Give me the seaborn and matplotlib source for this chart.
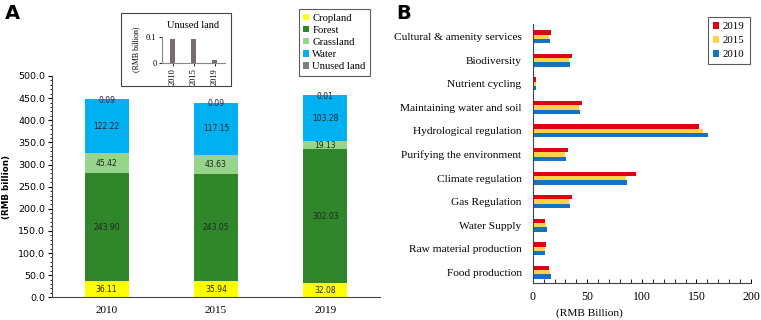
import numpy as np
import pandas as pd
import matplotlib
matplotlib.use("Agg")
import matplotlib.pyplot as plt
from matplotlib.patches import Rectangle, Patch
import seaborn as sns

# ---------------- data ----------------
years = ["2010", "2015", "2019"]
land_types = ["Cropland", "Forest", "Grassland", "Water", "Unused land"]
cropland = [36.11, 35.94, 32.08]
forest = [243.90, 243.05, 302.03]
grassland = [45.42, 43.63, 19.13]
water = [122.22, 117.15, 103.28]
unused = [0.09, 0.09, 0.01]

services = ["Cultural & amenity services", "Biodiversity", "Nutrient cycling",
            "Maintaining water and soil", "Hydrological regulation",
            "Purifying the environment", "Climate regulation", "Gas Regulation",
            "Water Supply", "Raw material production", "Food production"]
val_2019 = [16.5, 36.3, 3.0, 44.9, 152.4, 32.0, 94.9, 36.0, 11.3, 11.9, 15.2]
val_2015 = [15.0, 33.3, 3.0, 42.4, 156.0, 29.9, 85.2, 33.3, 11.9, 11.6, 15.5]
val_2010 = [15.5, 33.9, 3.0, 43.0, 160.9, 30.5, 86.1, 33.9, 12.8, 11.3, 16.5]
b_years = ["2019", "2015", "2010"]

land_colors = {"Cropland": "#FFFF00", "Forest": "#2F862B", "Grassland": "#97D58A",
               "Water": "#00B0F0", "Unused land": "#7F7F7F"}
year_colors = {"2019": "#E00012", "2015": "#FFD24A", "2010": "#1272C6"}

SERIF = ["Liberation Serif", "DejaVu Serif"]
SANS = ["DejaVu Sans"]

W, H = 761, 320
fig = plt.figure(figsize=(W / 100, H / 100), dpi=100)


def rect(l, t, r, b):
    return [l / W, 1 - b / H, (r - l) / W, (b - t) / H]


# ---------------- panel A ----------------
axA = fig.add_axes(rect(52, 76, 380, 297.3))
dfA = pd.DataFrame({"year": years, "Cropland": cropland, "Forest": forest,
                    "Grassland": grassland, "Water": water, "Unused land": unused})
cum = dfA[land_types].cumsum(axis=1)
for lt in reversed(land_types):
    sns.barplot(x=dfA["year"], y=cum[lt], order=years, color=land_colors[lt],
                width=0.4, saturation=1, ax=axA, linewidth=0)
axA.set_xlim(-0.5, 2.5)
axA.set_ylim(0, 500)
axA.set_yticks(np.arange(0, 501, 50))
axA.set_yticklabels([f"{v:.1f}" for v in np.arange(0, 501, 50)], family=SANS, fontsize=6.8)
axA.set_yticks(np.arange(0, 501, 10), minor=True)
axA.tick_params(axis="y", which="major", direction="out", length=3, width=0.8, pad=2)
axA.tick_params(axis="y", which="minor", direction="out", length=1.8, width=0.6)
axA.tick_params(axis="x", length=0, pad=6)
for lab in axA.get_xticklabels():
    lab.set_family(SERIF)
    lab.set_fontsize(8)
axA.set_xlabel("")
axA.set_ylabel("")
for s in ["top", "right"]:
    axA.spines[s].set_visible(False)
for s in ["left", "bottom"]:
    axA.spines[s].set_color("#444444")
    axA.spines[s].set_linewidth(0.8)

prev = np.zeros(3)
for lt in land_types:
    vals = dfA[lt].to_numpy()
    for i in range(3):
        if lt == "Unused land":
            y = prev[i] + vals[i] - 2
        else:
            y = prev[i] + vals[i] / 2
        axA.text(i, y, f"{vals[i]:.2f}", ha="center", va="center", fontsize=5.5,
                 family=SANS, color="#222222")
    prev = prev + vals

fig.text(7 / W, 1 - 187 / H, "(RMB billion)", rotation=90, ha="center", va="center",
         fontsize=6.3, fontweight="bold", family=SANS)
fig.text(5 / W, 1 - 4 / H, "A", ha="left", va="top", fontsize=14, fontweight="bold", family=SANS)

# legend A
handlesA = [Patch(facecolor=land_colors[lt], edgecolor="none") for lt in land_types]
legA = fig.legend(handlesA, land_types, loc="upper left",
                  bbox_to_anchor=(299 / W, 1 - 9.3 / H), prop={"family": SERIF, "size": 7.7},
                  frameon=True, fancybox=False, edgecolor="#333333", handlelength=0.55,
                  handleheight=0.55, handletextpad=0.3, labelspacing=0.3, borderpad=0.4,
                  borderaxespad=0)
legA.get_frame().set_linewidth(0.8)

# inset (unused land)
fig.patches.append(Rectangle((120.7 / W, 1 - 86 / H), (231.3 - 120.7) / W, (86 - 13.3) / H,
                             transform=fig.transFigure, facecolor="white",
                             edgecolor="#444444", linewidth=0.8, zorder=5))
axI = fig.add_axes(rect(162, 36.7, 225, 62.7))
axI.set_zorder(6)
dfI = pd.DataFrame({"year": years, "unused": unused})
sns.barplot(data=dfI, x="year", y="unused", order=years, color="#786C6C", saturation=1,
            width=0.22, ax=axI, linewidth=0)
axI.set_xlim(-0.5, 2.5)
axI.set_ylim(0, 0.1)
axI.set_yticks([0, 0.1])
axI.set_yticklabels(["0", "0.1"], family=SERIF, fontsize=6)
axI.set_xticks(range(3))
axI.set_xticklabels(years, rotation=90, family=SERIF, fontsize=6)
axI.tick_params(axis="both", length=2, width=0.6, pad=2)
axI.set_xlabel("")
axI.set_ylabel("(RMB billion)", family=SERIF, fontsize=5.8, labelpad=4)
axI.set_title("Unused land", family=SERIF, fontsize=7.5, pad=6)
for s in ["top", "right"]:
    axI.spines[s].set_visible(False)
for s in ["left", "bottom"]:
    axI.spines[s].set_color("#888888")
    axI.spines[s].set_linewidth(0.8)

# ---------------- panel B ----------------
axB = fig.add_axes(rect(532.7, 24, 751, 282.7))
dfB = pd.DataFrame({"service": services * 3,
                    "value": val_2019 + val_2015 + val_2010,
                    "year": ["2019"] * 11 + ["2015"] * 11 + ["2010"] * 11})
sns.barplot(data=dfB, y="service", x="value", hue="year", hue_order=b_years,
            order=services, orient="h", palette=year_colors, saturation=1,
            width=0.55, ax=axB, linewidth=0, legend=False)
axB.set_ylim(10.44, -0.54)
axB.set_xlim(0, 200)
axB.set_xticks(np.arange(0, 201, 50))
axB.set_xticks(np.arange(0, 201, 10), minor=True)
axB.tick_params(axis="x", which="major", direction="in", length=3, width=0.7, pad=6)
axB.tick_params(axis="x", which="minor", direction="in", length=3, width=0.6)
axB.tick_params(axis="y", length=0, pad=8)
for lab in axB.get_xticklabels():
    lab.set_family(SERIF)
    lab.set_fontsize(8.5)
for lab in axB.get_yticklabels():
    lab.set_family(SERIF)
    lab.set_fontsize(8.2)
axB.set_xlabel("")
axB.set_ylabel("")
for s in ["top", "right"]:
    axB.spines[s].set_visible(False)
for s in ["left", "bottom"]:
    axB.spines[s].set_color("#444444")
    axB.spines[s].set_linewidth(0.8)

fig.text(589 / W, 1 - 313 / H, "(RMB Billion)", ha="center", va="center",
         fontsize=8.2, family=SERIF)
fig.text(396 / W, 1 - 4 / H, "B", ha="left", va="top", fontsize=14, fontweight="bold", family=SANS)

handlesB = [Patch(facecolor=year_colors[y], edgecolor="none") for y in b_years]
legB = fig.legend(handlesB, b_years, loc="upper left",
                  bbox_to_anchor=(708.3 / W, 1 - 17.3 / H), prop={"family": SERIF, "size": 7.8},
                  frameon=True, fancybox=False, edgecolor="#333333", handlelength=0.55,
                  handleheight=0.55, handletextpad=0.35, labelspacing=0.45, borderpad=0.45,
                  borderaxespad=0)
legB.get_frame().set_linewidth(0.8)

fig.savefig("out.png", dpi=100)
